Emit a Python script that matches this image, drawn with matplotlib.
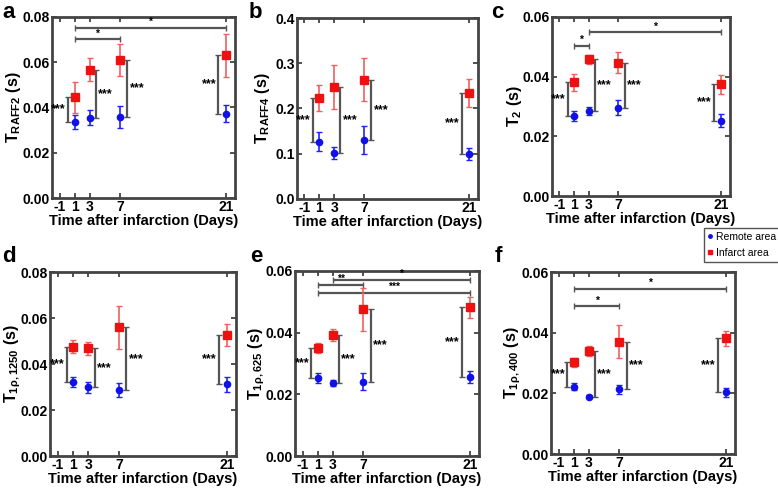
import matplotlib
matplotlib.use("Agg")
import matplotlib.pyplot as plt

plt.rcParams['font.family'] = ['Liberation Sans', 'DejaVu Sans']
plt.rcParams['font.weight'] = 'bold'
plt.rcParams['mathtext.fontset'] = 'custom'
plt.rcParams['mathtext.rm'] = 'Liberation Sans:bold'
plt.rcParams['mathtext.bf'] = 'Liberation Sans:bold'
plt.rcParams['mathtext.it'] = 'Liberation Sans:bold:italic'
plt.rcParams['mathtext.default'] = 'bf'

days = [1, 3, 7, 21]
xticks = [-1, 1, 3, 7, 21]
xlabel = "Time after infarction (Days)"

# panel a: T_RAFF2
a_remote = [0.0336, 0.0355, 0.0357, 0.0373]
a_remote_err = [0.0031, 0.0033, 0.0048, 0.0037]
a_infarct = [0.0445, 0.0567, 0.0611, 0.0631]
a_infarct_err = [0.0068, 0.0050, 0.0070, 0.0096]
a_sig = [(1, 21, 0.0753, '*'), (1, 7, 0.0701, '*')]

# panel b: T_RAFF4
b_remote = [0.126, 0.101, 0.130, 0.099]
b_remote_err = [0.021, 0.013, 0.031, 0.013]
b_infarct = [0.224, 0.248, 0.264, 0.235]
b_infarct_err = [0.029, 0.049, 0.048, 0.031]
b_sig = []

# panel c: T2
c_remote = [0.0268, 0.0285, 0.0296, 0.0253]
c_remote_err = [0.0017, 0.0014, 0.0025, 0.0022]
c_infarct = [0.0381, 0.0458, 0.0447, 0.0375]
c_infarct_err = [0.0029, 0.0015, 0.0036, 0.0032]
c_sig = [(1, 3, 0.0503, '*'), (3, 21, 0.0549, '*')]

# panel d: T1rho,1250
d_remote = [0.0323, 0.0298, 0.0287, 0.0311]
d_remote_err = [0.0022, 0.0024, 0.0029, 0.0031]
d_infarct = [0.0476, 0.0468, 0.0559, 0.0527]
d_infarct_err = [0.0029, 0.0029, 0.0095, 0.0048]
d_sig = []

# panel e: T1rho,625
e_remote = [0.0252, 0.0236, 0.0241, 0.0257]
e_remote_err = [0.0016, 0.0010, 0.0027, 0.0019]
e_infarct = [0.0351, 0.0392, 0.0476, 0.0483]
e_infarct_err = [0.0017, 0.0020, 0.0070, 0.0034]
e_sig = [(3, 21, 0.0571, '*'), (1, 7, 0.0555, '**'), (1, 21, 0.0530, '***')]

# panel f: T1rho,400
f_remote = [0.0222, 0.0189, 0.0214, 0.0203]
f_remote_err = [0.0011, 0.0005, 0.0015, 0.0014]
f_infarct = [0.0302, 0.0339, 0.0370, 0.0381]
f_infarct_err = [0.0016, 0.0017, 0.0054, 0.0024]
f_sig = [(1, 21, 0.0545, '*'), (1, 7, 0.0487, '*')]

panels = [
    ('a', r'T$_{RAFF2}$ (s)', 0.08, 0.02, a_remote, a_remote_err, a_infarct, a_infarct_err, a_sig),
    ('b', r'T$_{RAFF4}$ (s)', 0.4, 0.1, b_remote, b_remote_err, b_infarct, b_infarct_err, b_sig),
    ('c', r'T$_2$ (s)', 0.06, 0.02, c_remote, c_remote_err, c_infarct, c_infarct_err, c_sig),
    ('d', r'T$_{1ρ,1250}$ (s)', 0.08, 0.02, d_remote, d_remote_err, d_infarct, d_infarct_err, d_sig),
    ('e', r'T$_{1ρ,625}$ (s)', 0.06, 0.02, e_remote, e_remote_err, e_infarct, e_infarct_err, e_sig),
    ('f', r'T$_{1ρ,400}$ (s)', 0.06, 0.02, f_remote, f_remote_err, f_infarct, f_infarct_err, f_sig),
]

# axes boxes in pixels (left, top, right, bottom)
boxes = [(52, 17, 235, 198), (297, 18, 478, 199), (552, 17, 730, 196),
         (50, 272, 236, 456), (295, 271, 479, 456), (551, 272, 735, 454)]
letter_pos = [(2, 2), (249, 2), (491, 2), (2, 246), (250, 246), (495, 246)]
ylabel_dx = [-38, -34, -38, -37, -38, -38]

W, H = 778, 490
fig = plt.figure(figsize=(W / 100, H / 100), dpi=100)

brk_dx = [-0.85, 0.8, 0.95, -1.0]
brk_side = ['left', 'right', 'right', 'left']
gray = '#555555'

for (letter, ylab, ymax, ystep, rem, rem_e, inf, inf_e, sig), box, lp, ldx in zip(panels, boxes, letter_pos, ylabel_dx):
    l, t, r, b = box
    ax = fig.add_axes([l / W, 1 - b / H, (r - l) / W, (b - t) / H])
    ax.errorbar(days, rem, yerr=rem_e, fmt='o', color='#1010e8', ms=4.5,
                ecolor='#2020ff', elinewidth=1.2, capsize=2, capthick=1, zorder=3)
    ax.errorbar(days, inf, yerr=inf_e, fmt='s', color='#ee1111', ms=5.5,
                ecolor='#f06060', elinewidth=1.2, capsize=2.5, capthick=1, zorder=3)
    # vertical significance brackets between remote and infarct
    for d, lo, hi, dx, side in zip(days, rem, inf, brk_dx, brk_side):
        x = d + dx
        ax.errorbar([x], [(lo + hi) / 2], yerr=[[(hi - lo) / 2], [(hi - lo) / 2]],
                    fmt='none', ecolor=gray, elinewidth=1.6, capsize=2, capthick=1)
        if side == 'left':
            ax.text(x - 0.3, (lo + hi) / 2, '***', ha='right', va='center', fontsize=9)
        else:
            ax.text(x + 0.3, (lo + hi) / 2, '***', ha='left', va='center', fontsize=9)
    # horizontal comparisons between days
    for x0, x1, yv, lab in sig:
        ax.errorbar([(x0 + x1) / 2], [yv], xerr=[[(x1 - x0) / 2], [(x1 - x0) / 2]],
                    fmt='none', ecolor=gray, elinewidth=1.6, capsize=2, capthick=1)
        ax.text((x0 + x1) / 2, yv + ymax * 0.004, lab, ha='center', va='bottom', fontsize=7.5)
    ax.set_xlim(-2.0, 22.2)
    ax.set_ylim(0, ymax)
    ax.set_xticks(xticks)
    ax.set_xticklabels([str(v) for v in xticks])
    nt = int(round(ymax / ystep))
    yt = [ystep * i for i in range(nt + 1)]
    ax.set_yticks(yt)
    if ystep < 0.05:
        ax.set_yticklabels(['%.2f' % v for v in yt])
    else:
        ax.set_yticklabels(['%.1f' % v for v in yt])
    ax.tick_params(direction='in', length=3.5, width=1.2, top=True, right=True,
                   labelsize=10, pad=1.5, color='#333333')
    for s in ax.spines.values():
        s.set_linewidth(2)
        s.set_color('#444444')
    ax.set_xlabel(xlabel, fontsize=10.5, fontweight='bold', labelpad=0)
    ax.set_ylabel(ylab, fontsize=11.5, fontweight='bold', va='center')
    ax.yaxis.set_label_coords(ldx / (r - l), 0.5)
    fig.text(lp[0] / W, 1 - lp[1] / H, letter, fontsize=16, fontweight='bold', ha='left', va='top')

# legend
h1 = plt.Line2D([], [], marker='o', ls='none', color='#1010e8', ms=2.5)
h2 = plt.Line2D([], [], marker='s', ls='none', color='#ee1111', ms=2.5)
leg = fig.legend([h1, h2], ['Remote area', 'Infarct area'], loc='upper left',
                 bbox_to_anchor=(704 / W, 1 - 228 / H), fancybox=False, framealpha=1,
                 edgecolor='#555555', handlelength=0.4, handletextpad=0.4,
                 borderpad=0.35, labelspacing=0.6, borderaxespad=0,
                 prop={'family': ['Liberation Sans', 'DejaVu Sans'], 'size': 7.5, 'weight': 'normal'})

fig.savefig('out.png', dpi=100)
